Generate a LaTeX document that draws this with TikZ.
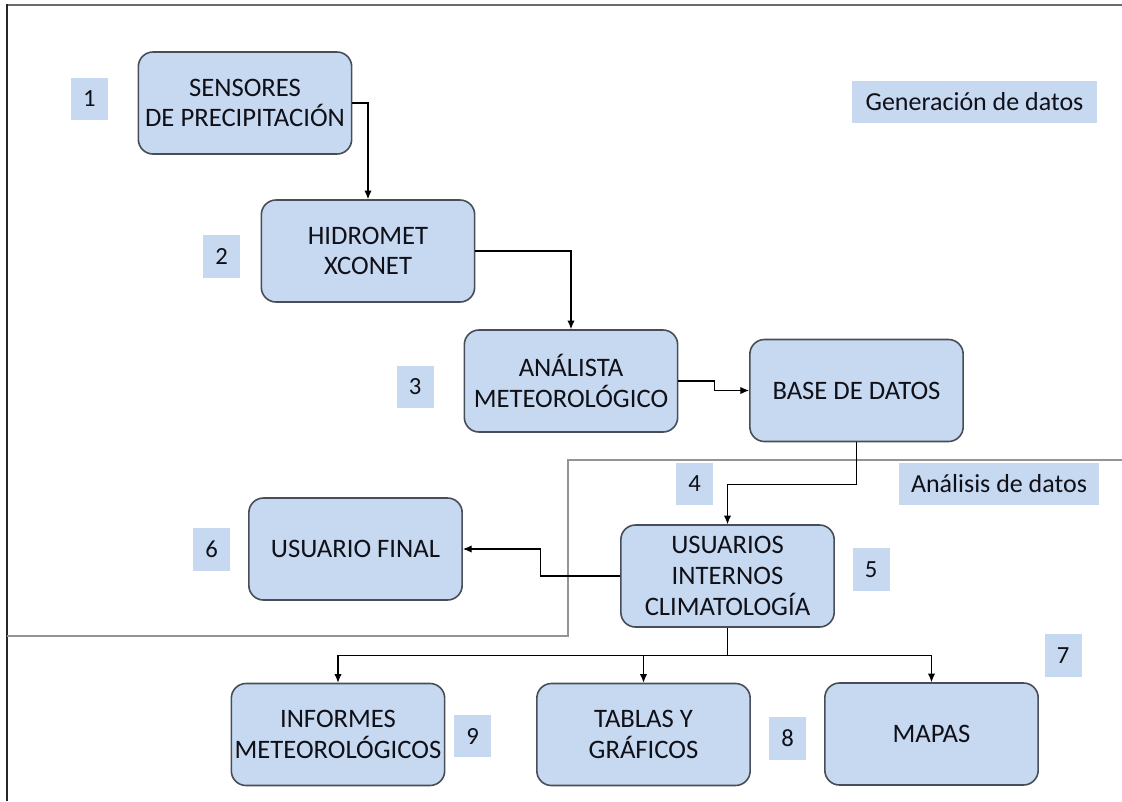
\documentclass[tikz,border=0pt]{standalone}
\usepackage{fontspec}
\setmainfont{Carlito}
\usetikzlibrary{arrows.meta,calc}
\definecolor{boxfill}{RGB}{198,217,241}
\definecolor{boxline}{RGB}{72,78,88}
\definecolor{txt}{RGB}{16,16,24}
\begin{document}
\begin{tikzpicture}[x=0.75pt,y=-0.75pt,
  stepbox/.style={draw=boxline,line width=1.2pt,fill=boxfill,rounded corners=11pt,
    minimum width=160pt,minimum height=76.5pt,inner sep=0pt,align=center,
    text=txt,font=\fontsize{20}{23}\selectfont},
  tag/.style={fill=boxfill,inner sep=0pt,minimum width=27.75pt,minimum height=32pt,
    text=txt,font=\fontsize{18.5}{21}\selectfont},
  zonetag/.style={fill=boxfill,inner sep=0pt,minimum height=31.5pt,
    text=txt,font=\fontsize{19.5}{22}\selectfont},
  flow/.style={draw=black,line width=0.8pt,-{Latex[length=6.5pt,width=5.5pt]}},
  zoneline/.style={draw=black!42,line width=1.1pt}]
\useasboundingbox (0,0) rectangle (1122,801);
% outer frame
\draw[draw=black!58,line width=1.6pt] (6,5) -- (1122,5);
\draw[draw=black!85,line width=1.6pt] (7,4) -- (7,801);
% boundary of the analysis zone
\draw[zoneline] (7,636) -- (568,636) -- (568,460) -- (1122,460);

% process boxes
\node[stepbox] (sens)  at (245,103)   {SENSORES\\DE PRECIPITACIÓN};
\node[stepbox] (hidro) at (368,251)   {HIDROMET\\XCONET};
\node[stepbox] (anal)  at (571,381)   {ANÁLISTA\\METEOROLÓGICO};
\node[stepbox] (base)  at (856.5,390.5) {BASE DE DATOS};
\node[stepbox] (usu)   at (727.5,576) {USUARIOS\\INTERNOS\\CLIMATOLOGÍA};
\node[stepbox] (final) at (355.5,549) {USUARIO FINAL};
\node[stepbox] (inf)   at (338,734.5) {INFORMES\\METEOROLÓGICOS};
\node[stepbox] (tab)   at (643.5,734.5) {TABLAS Y\\GRÁFICOS};
\node[stepbox] (mapas) at (931.5,734) {MAPAS};

% step numbers
\node[tag] (n1) at (89.5,99)    {1};
\node[tag] (n2) at (221.5,256.5) {2};
\node[tag] (n3) at (415,387)    {3};
\node[tag] (n4) at (694.5,484)  {4};
\node[tag] (n5) at (871,569.5)  {5};
\node[tag] (n6) at (211.5,549.5) {6};
\node[tag] (n7) at (1063,655.5) {7};
\node[tag] (n8) at (787.5,738.5) {8};
\node[tag] (n9) at (472.5,736)  {9};

% zone names
\node[zonetag,minimum width=183.75pt] (gen) at (974.5,102) {Generación de datos};
\node[zonetag,minimum width=150pt] (ana) at (999,484) {Análisis de datos};

% connectors
\draw[flow] (sens.east) -| (hidro.north);
\draw[flow] (hidro.east) -| (anal.north);
\draw[flow] (anal.east) -- ++(36,0) |- (base.west);
\draw[flow] (base.south) -- ++(0,42) -| (usu.north);
\draw[flow] (usu.west) -- ++(-80,0) |- (final.east);
\draw[flow] (usu.south) -- ++(0,28) -| (inf.north);
\draw[flow] (usu.south) -- ++(0,28) -| (tab.north);
\draw[flow] (usu.south) -- ++(0,28) -| (mapas.north);
\end{tikzpicture}
\end{document}
